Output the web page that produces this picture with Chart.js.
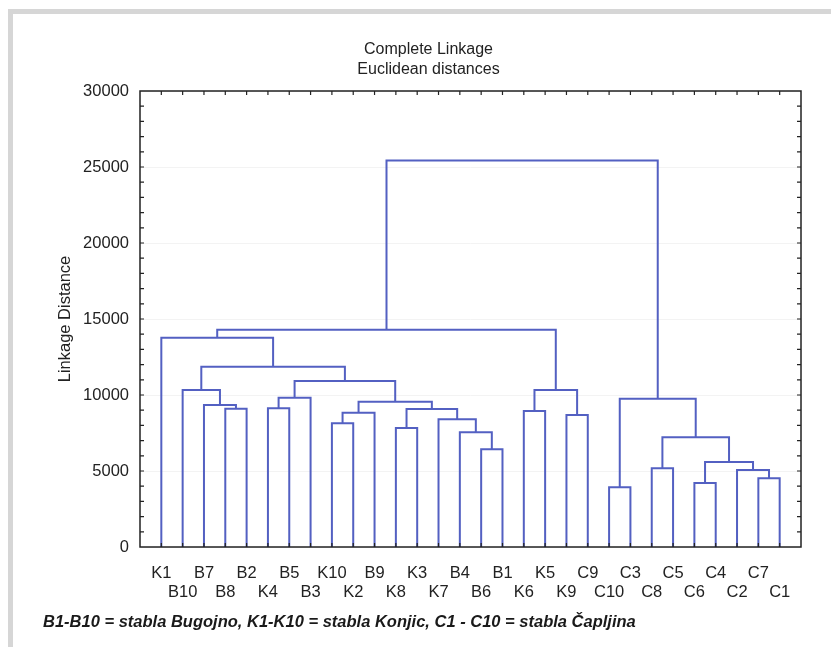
<!DOCTYPE html>
<html>
<head>
<meta charset="utf-8">
<script src="https://cdn.jsdelivr.net/npm/chart.js@4.4.1/dist/chart.umd.min.js"></script>
<style>
  body { margin: 0; background: #fff; }
  #wrap { position: relative; width: 831px; height: 647px; overflow: hidden; }
  #edge { position: absolute; left: 8px; top: 9px; right: 0; bottom: 0;
          border-top: 5px solid #d6d6d6; border-left: 5px solid #d6d6d6; }
  #dendro { position: absolute; left: 0; top: 0; }
  #note { position: absolute; left: 43px; top: 612px; line-height: 18px;
          font: italic bold 16.5px "Liberation Sans", Arial, sans-serif; color: #1a1a1a; white-space: nowrap; }
</style>
</head>
<body>
<div id="wrap">
  <div id="edge"></div>
  <canvas id="dendro" width="831" height="647"></canvas>
  <div id="note">B1-B10 = stabla Bugojno, K1-K10 = stabla Konjic, C1 - C10 = stabla Čapljina</div>
</div>
<script>
// dendrogram.js

/* ========== DATA ========== */
// leaf order along the x axis
const leafLabels = ['K1', 'B10', 'B7', 'B8', 'B2', 'K4', 'B5', 'B3', 'K10', 'K2',
                    'B9', 'K8', 'K3', 'K7', 'B4', 'B6', 'B1', 'K6', 'K5', 'K9',
                    'C9', 'C10', 'C3', 'C8', 'C5', 'C6', 'C4', 'C2', 'C7', 'C1'];

// merges: [left, right, linkage distance]; a child is a leaf label or the index of an earlier merge
const merges = [
  ['C10', 'C3', 3930],  // 0
  ['C6', 'C4', 4210],   // 1
  ['C7', 'C1', 4520],   // 2
  ['C2', 2, 5070],      // 3
  ['C8', 'C5', 5180],   // 4
  [1, 3, 5590],         // 5
  ['B6', 'B1', 6430],   // 6
  [4, 5, 7220],         // 7
  ['B4', 6, 7550],      // 8
  ['K8', 'K3', 7830],   // 9
  ['K10', 'K2', 8140],  // 10
  ['K7', 8, 8400],      // 11
  ['K9', 'C9', 8680],   // 12
  [10, 'B9', 8840],     // 13
  ['K6', 'K5', 8950],   // 14
  [9, 11, 9080],        // 15
  ['B8', 'B2', 9100],   // 16
  ['K4', 'B5', 9130],   // 17
  ['B7', 16, 9340],     // 18
  [13, 15, 9560],       // 19
  [0, 7, 9760],         // 20
  [17, 'B3', 9820],     // 21
  ['B10', 18, 10330],   // 22
  [14, 12, 10330],      // 23
  [21, 19, 10920],      // 24
  [22, 24, 11860],      // 25
  ['K1', 25, 13770],    // 26
  [26, 23, 14300],      // 27
  [27, 20, 25420]       // 28
];

const yTicks = [0, 5000, 10000, 15000, 20000, 25000, 30000];

/* ========== BUILD SEGMENTS ========== */
const nodes = [];
function nodeOf(ref) {
  if (typeof ref === 'string') return { x: leafLabels.indexOf(ref) + 1, h: 0 };
  return nodes[ref];
}

const datasets = merges.map(([a, b, h]) => {
  const na = nodeOf(a), nb = nodeOf(b);
  nodes.push({ x: (na.x + nb.x) / 2, h });
  return {
    data: [{ x: na.x, y: na.h }, { x: na.x, y: h }, { x: nb.x, y: h }, { x: nb.x, y: nb.h }],
    showLine: true,
    borderColor: '#5360c2',
    borderWidth: 2,
    pointRadius: 0,
    fill: false
  };
});

/* ========== FRAME + INWARD TICKS ========== */
const framePlugin = {
  id: 'frame',
  afterDatasetsDraw(chart) {
    const { ctx, chartArea: a, scales: { x, y } } = chart;
    ctx.save();
    ctx.strokeStyle = '#222';
    ctx.lineWidth = 1.5;
    ctx.strokeRect(a.left, a.top, a.right - a.left, a.bottom - a.top);
    ctx.lineWidth = 1.2;
    ctx.beginPath();
    leafLabels.forEach((l, i) => {
      const px = x.getPixelForValue(i + 1);
      ctx.moveTo(px, a.top); ctx.lineTo(px, a.top + 4);
      ctx.moveTo(px, a.bottom); ctx.lineTo(px, a.bottom - 4);
    });
    for (let v = 1000; v < 30000; v += 1000) {
      const py = y.getPixelForValue(v);
      ctx.moveTo(a.left, py); ctx.lineTo(a.left + 4, py);
      ctx.moveTo(a.right, py); ctx.lineTo(a.right - 4, py);
    }
    ctx.stroke();
    ctx.restore();
  }
};

const font = { family: '"Liberation Sans", Arial, sans-serif', size: 16.5 };

new Chart(document.getElementById('dendro').getContext('2d'), {
  type: 'scatter',
  data: { datasets },
  options: {
    responsive: false,
    animation: false,
    layout: { padding: { left: 56, right: 30, top: 0, bottom: 0 } },
    plugins: {
      legend: { display: false },
      tooltip: { enabled: false },
      title: {
        display: true,
        text: ['Complete Linkage', 'Euclidean distances'],
        color: '#222',
        font: { ...font, size: 16, weight: 'normal', lineHeight: 1.25 },
        padding: { top: 40, bottom: 11 }
      }
    },
    scales: {
      x: {
        type: 'linear',
        min: 0,
        max: 31,
        afterBuildTicks: s => { s.ticks = leafLabels.map((l, i) => ({ value: i + 1 })); },
        afterFit: s => { s.height = 100; },
        grid: { display: false },
        border: { display: false },
        ticks: {
          autoSkip: false,
          maxRotation: 0,
          padding: 9,
          color: '#222',
          font: { ...font, lineHeight: 1.15 },
          callback: v => (v % 2 === 1 ? leafLabels[v - 1] : ['', leafLabels[v - 1]])
        }
      },
      y: {
        min: 0,
        max: 30000,
        afterBuildTicks: s => { s.ticks = yTicks.map(v => ({ value: v })); },
        afterFit: s => { s.width = 84; },
        grid: { color: '#f3f3f3', drawTicks: false },
        border: { display: false },
        ticks: { padding: 11, color: '#222', font, callback: v => String(v) },
        title: {
          display: true,
          text: 'Linkage Distance',
          color: '#222',
          font,
          padding: { top: 0, bottom: 0 }
        }
      }
    }
  },
  plugins: [framePlugin]
});
</script>
</body>
</html>
